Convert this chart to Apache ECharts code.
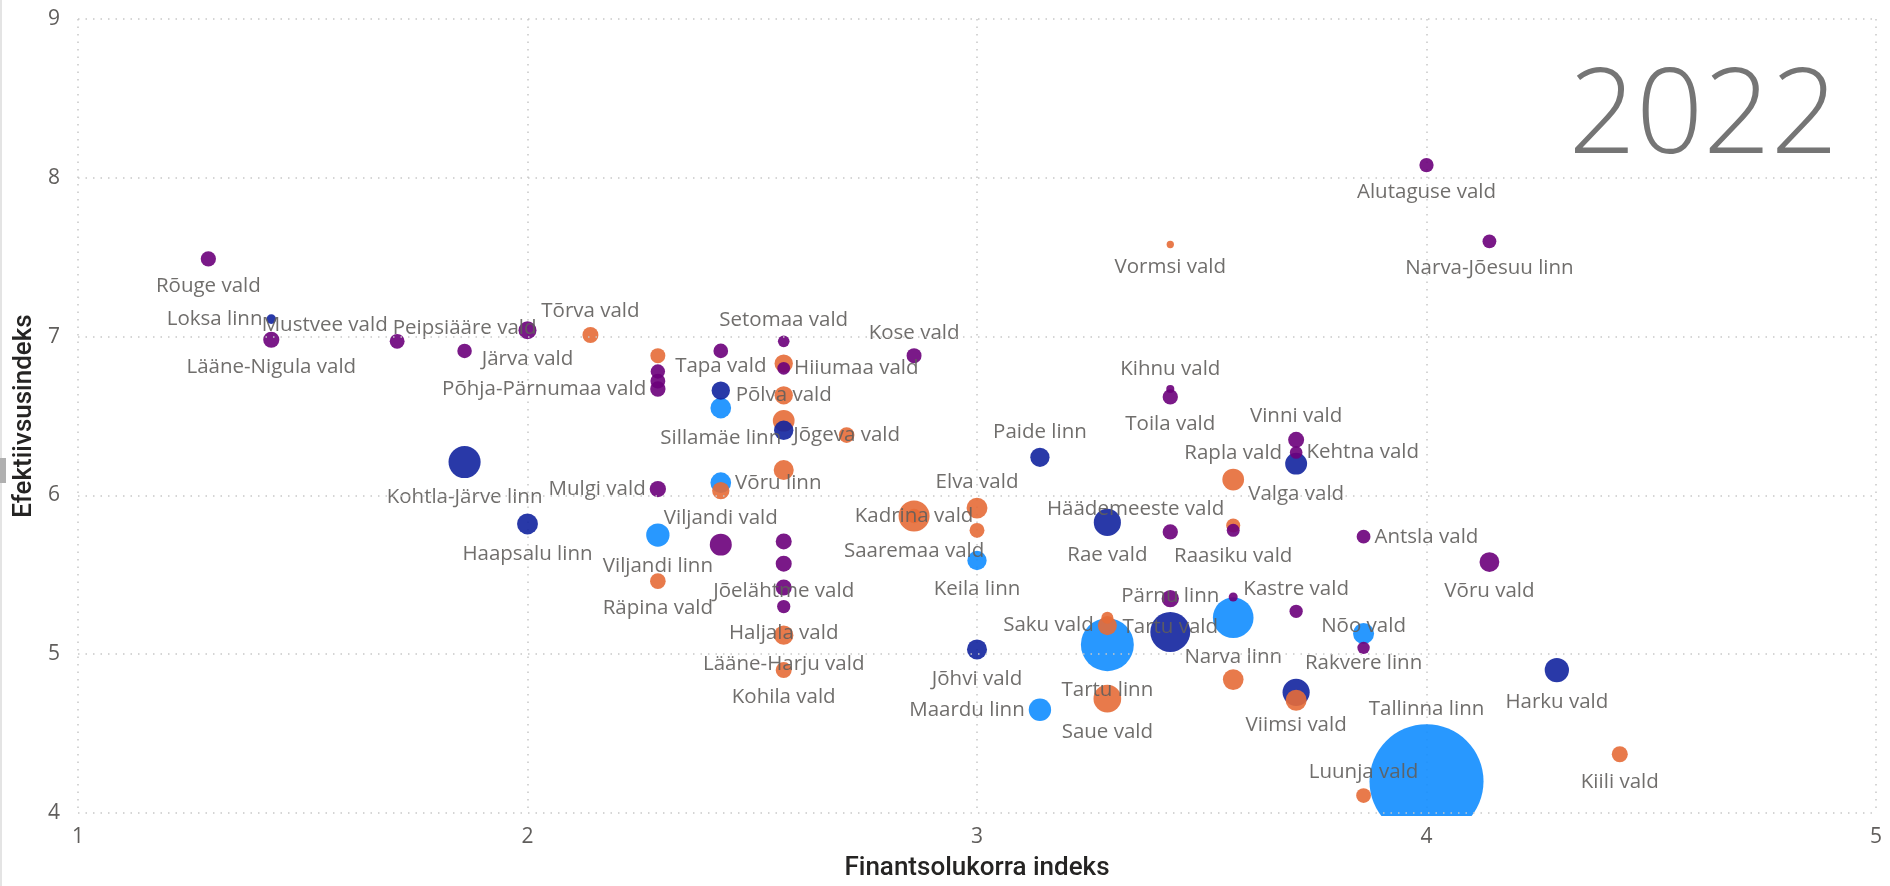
<!DOCTYPE html>
<html>
<head>
<meta charset="utf-8">
<script src="https://cdn.jsdelivr.net/npm/echarts@6/dist/echarts.min.js"></script>
<style>
html,body{margin:0;padding:0;background:#fff;}
#chart{width:1890px;height:886px;}
</style>
</head>
<body>
<div id="chart"></div>
<script>
// ---------- DATA ----------
const names = [
  "Rõuge vald","Loksa linn","Lääne-Nigula vald","Mustvee vald","Peipsiääre vald","Järva vald","Tõrva vald","Kohtla-Järve linn","Haapsalu linn",
  "","","","Põhja-Pärnumaa vald","","Setomaa vald","","Hiiumaa vald","Tapa vald","Sillamäe linn","Põlva vald","","","Jõgeva vald","","Võru linn","","Mulgi vald","Kose vald",
  "Viljandi linn","Räpina vald","Viljandi vald","","Jõelähtme vald","","Haljala vald","Lääne-Harju vald","Kohila vald","Saaremaa vald","Kadrina vald","Elva vald","","Keila linn","Jõhvi vald","Paide linn","Maardu linn",
  "Rae vald","","Saku vald","Tartu linn","Saue vald","Vormsi vald","Kihnu vald","Toila vald","","Tartu vald","Pärnu linn",
  "Rapla vald","Häädemeeste vald","Raasiku vald","","Narva linn","","Vinni vald","Kehtna vald","Valga vald","Kastre vald","Viimsi vald","","Antsla vald","Rakvere linn","Nõo vald","Luunja vald","Alutaguse vald","Tallinna linn","Narva-Jõesuu linn","Võru vald","Harku vald","Kiili vald"
];
// Finantsolukorra indeks (x)
const finantsolukord = [
  1.29,1.43,1.43,1.71,1.86,2,2.14,1.86,2,
  2.29,2.29,2.29,2.29,2.43,2.57,2.57,2.57,2.43,2.43,2.57,2.57,2.57,2.71,2.57,2.43,2.43,2.29,2.86,
  2.29,2.29,2.43,2.57,2.57,2.57,2.57,2.57,2.57,2.86,2.86,3,3,3,3,3.14,3.14,
  3.29,3.29,3.29,3.29,3.29,3.43,3.43,3.43,3.43,3.43,3.43,
  3.57,3.57,3.57,3.57,3.57,3.57,3.71,3.71,3.71,3.71,3.71,3.71,3.86,3.86,3.86,3.86,4,4,4.14,4.14,4.29,4.43
];
// Efektiivsusindeks (y)
const efektiivsus = [
  7.49,7.11,6.98,6.97,6.91,7.04,7.01,6.21,5.82,
  6.88,6.78,6.72,6.67,6.91,6.97,6.83,6.80,6.66,6.55,6.63,6.47,6.41,6.38,6.16,6.08,6.03,6.04,6.88,
  5.75,5.46,5.69,5.71,5.57,5.42,5.30,5.12,4.90,5.87,5.87,5.92,5.78,5.59,5.03,6.24,4.65,
  5.83,5.23,5.18,5.06,4.72,7.58,6.67,6.62,5.77,5.35,5.14,
  6.10,5.81,5.78,5.36,5.23,4.84,6.35,6.27,6.20,5.27,4.76,4.71,5.74,5.13,5.04,4.11,8.08,4.20,7.60,5.58,4.90,4.37
];
// bubble size (thousands)
const suurus = [
  7.9,3.1,8.8,7.5,7.1,11,8.7,35,14.8,
  7.6,7,7.5,8,7.3,4.6,11.4,5.5,11.4,14.5,11.4,16,12.7,8.3,13.6,14.5,10.2,9,7.6,
  18.5,8.3,16.4,8.7,8.7,8.7,6,12.7,8.7,32.6,7,14.8,7.5,12.6,13.6,12.6,17,
  25,4.9,12.3,95,26,1.8,2.2,7.9,7.9,10.2,54,
  16,6.7,5.7,2.75,56,14.5,8.7,5.4,16.3,6,25,15,6.5,15,5.2,7.4,6.9,441,6.5,13.3,20,8.7
];
// colour group: 0 light blue, 1 dark blue, 2 orange, 3 purple
const grupp = [
  3,1,3,3,3,3,2,1,1,
  2,3,3,3,3,3,2,3,1,0,2,2,1,2,2,0,2,3,3,
  0,2,3,3,3,3,3,2,2,2,2,2,2,0,1,1,0,
  1,2,2,0,2,2,3,3,3,3,1,
  2,2,3,3,0,2,3,3,1,3,1,2,3,0,3,2,3,0,3,3,1,2
];
const xTicks = [1,2,3,4,5];
const yTicks = [4,5,6,7,8,9];
const yearLabel = "2022";

// ---------- LAYOUT / STYLE ----------
const W = 1890, H = 886;
const GRID = {left:78, right:14, top:19, bottom:71};
const COLORS = ['#118DFF','#12239E','#E66C37','#6B007B'];
const SIZE_K = 5.43;
const labelPlacement = {
  top: ["Peipsiääre vald","Tõrva vald","Setomaa vald","Tapa vald","Kose vald","Viljandi vald","Elva vald","Paide linn","Kihnu vald","Pärnu linn","Rapla vald","Vinni vald","Kastre vald","Nõo vald","Luunja vald","Tallinna linn"],
  bottom: ["Rõuge vald","Lääne-Nigula vald","Järva vald","Kohtla-Järve linn","Haapsalu linn","Sillamäe linn","Viljandi linn","Räpina vald","Jõelähtme vald","Haljala vald","Lääne-Harju vald","Kohila vald","Saaremaa vald","Keila linn","Jõhvi vald","Rae vald","Tartu linn","Saue vald","Vormsi vald","Toila vald","Tartu vald","Raasiku vald","Narva linn","Valga vald","Viimsi vald","Rakvere linn","Alutaguse vald","Narva-Jõesuu linn","Võru vald","Harku vald","Kiili vald"],
  left: ["Loksa linn","Põhja-Pärnumaa vald","Mulgi vald","Saku vald","Maardu linn"],
  right: ["Hiiumaa vald","Võru linn","Kehtna vald","Antsla vald"],
  inside: ["Põlva vald","Jõgeva vald","Kadrina vald"],
  aboveLeft: ["Mustvee vald","Häädemeeste vald"]
};
function labelFor(name){
  if(!name) return {show:false};
  for (const k in labelPlacement){
    if (labelPlacement[k].indexOf(name) >= 0){
      switch(k){
        case 'top': return {show:true, position:'top', distance:5};
        case 'bottom': return {show:true, position:'bottom', distance:9};
        case 'left': return {show:true, position:'left', distance:4};
        case 'right': return {show:true, position:'right', distance:4};
        case 'inside': return {show:true, position:'inside'};
        case 'aboveLeft': return {show:true, position:'left', distance:2};
      }
    }
  }
  return {show:false};
}

const items = names.map((n,i)=>({
  name:n,
  value:[finantsolukord[i], efektiivsus[i], suurus[i]],
  itemStyle:{color:COLORS[grupp[i]], opacity:0.9},
  label:labelFor(n)
}));
items.sort((a,b)=>b.value[2]-a.value[2]);

const tickColor = '#605e5c';
const gridLine = {show:true, lineStyle:{color:'#c8c8c8', width:1.5, type:[1.5,6]}};

const chart = echarts.init(document.getElementById('chart'), null, {renderer:'canvas'});
chart.setOption({
  animation:false,
  backgroundColor:'#ffffff',
  grid:{left:GRID.left, right:GRID.right, top:GRID.top, bottom:GRID.bottom, containLabel:false},
  xAxis:[
    {type:'value', min:xTicks[0], max:xTicks[xTicks.length-1], interval:1, position:'bottom',
     axisLine:{show:false}, axisTick:{show:false}, axisLabel:{show:false}, splitLine:gridLine, z:0},
    {type:'value', min:xTicks[0], max:xTicks[xTicks.length-1], interval:1, position:'bottom', z:10,
     axisLine:{show:false}, axisTick:{show:false}, splitLine:{show:false},
     axisLabel:{show:true, margin:14, color:tickColor, fontFamily:'Open Sans', fontSize:21},
     name:'Finantsolukorra indeks', nameLocation:'middle', nameGap:42,
     nameTextStyle:{color:'#252423', fontFamily:'Roboto', fontSize:26, fontWeight:500}}
  ],
  yAxis:[
    {type:'value', min:yTicks[0], max:yTicks[yTicks.length-1], interval:1, z:10,
     axisLine:{show:false}, axisTick:{show:false}, splitLine:gridLine,
     axisLabel:{show:true, margin:18, color:tickColor, fontFamily:'Open Sans', fontSize:21},
     name:'Efektiivsusindeks', nameLocation:'middle', nameGap:34,
     nameTextStyle:{color:'#252423', fontFamily:'Roboto', fontSize:26, fontWeight:500}}
  ],
  graphic:[
    {type:'rect', left:GRID.left, top:H-GRID.bottom+1, z:5,
     shape:{width:W-GRID.left-GRID.right, height:GRID.bottom}, style:{fill:'#ffffff'}},
    {type:'rect', left:0, top:0, z:1, shape:{width:2, height:H}, style:{fill:'#e4e4e4'}},
    {type:'rect', left:0, top:458, z:1, shape:{width:6, height:25}, style:{fill:'#b0b0b0'}},
    {type:'text', x:W-52, y:119, z:1,
     style:{text:yearLabel, textAlign:'right', textVerticalAlign:'middle',
            font:'300 118px "Open Sans"', fill:'#757575'}}
  ],
  series:[{
    type:'scatter',
    xAxisIndex:0, yAxisIndex:0, z:2,
    symbol:'circle',
    symbolSize:function(v){ return SIZE_K*Math.sqrt(v[2]); },
    label:{show:false, formatter:'{b}', color:tickColor, fontFamily:'Open Sans', fontSize:20.5},
    labelLayout:function(params){
      const it = items[params.dataIndex];
      if (it && labelPlacement.aboveLeft.indexOf(it.name) >= 0) {
        return {hideOverlap:false, dy:-16};
      }
      return {hideOverlap:false};
    },
    emphasis:{disabled:true},
    data:items
  }]
});
</script>
</body>
</html>
